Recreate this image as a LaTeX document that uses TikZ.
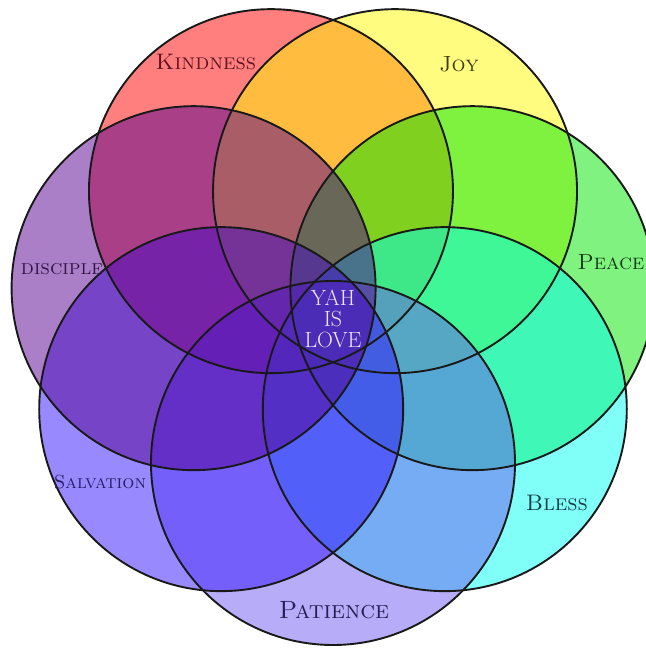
\documentclass[tikz,border=0pt]{standalone}
\usepackage{tikz}
\definecolor{kindC}{RGB}{255,0,0}
\definecolor{joyC}{RGB}{255,250,0}
\definecolor{peaceC}{RGB}{0,230,0}
\definecolor{blessC}{RGB}{0,255,240}
\definecolor{patC}{RGB}{110,90,240}
\definecolor{salvC}{RGB}{50,20,255}
\definecolor{discC}{RGB}{85,0,145}
\definecolor{kindT}{RGB}{95,20,30}
\definecolor{joyT}{RGB}{60,60,20}
\definecolor{peaceT}{RGB}{20,60,25}
\definecolor{blessT}{RGB}{20,60,70}
\definecolor{patT}{RGB}{40,30,85}
\definecolor{salvT}{RGB}{40,30,100}
\definecolor{discT}{RGB}{50,20,70}
\definecolor{coreT}{RGB}{238,228,255}

\begin{document}
\begin{tikzpicture}[x=1pt, y=1pt,
  petal/.style={circle, minimum size=364pt, inner sep=0pt, fill opacity=0.5},
  rim/.style={draw=black!90, line width=1.9pt},
  word/.style={font=\fontsize{22}{24}\selectfont\scshape, inner sep=0pt}]
\useasboundingbox (-333,-332) rectangle (312,320);
\node[petal, fill=kindC] (kind) at (115.71:143) {};
\node[petal, fill=joyC] (joy) at (64.29:143) {};
\node[petal, fill=peaceC] (peace) at (12.86:143) {};
\node[petal, fill=blessC] (bless) at (-38.57:143) {};
\node[petal, fill=patC] (pat) at (-90:143) {};
\node[petal, fill=salvC] (salv) at (-141.43:143) {};
\node[petal, fill=discC] (disc) at (167.14:143) {};
\foreach \c in {kind, joy, peace, bless, pat, salv, disc}
  \draw[rim] (\c.center) circle[radius=182];
\node[word, text=kindT, font=\fontsize{22.5}{24}\selectfont\scshape] (kindL) at (-127,258) {Kindness};
\node[word, text=joyT] (joyL) at (126,256) {Joy};
\node[word, text=peaceT] (peaceL) at (278,58) {Peace};
\node[word, text=discT, font=\fontsize{21}{24}\selectfont\scshape] (discL) at (-271,51) {disciple};
\node[word, text=salvT, font=\fontsize{19}{22}\selectfont\scshape] (salvL) at (-233,-162) {Salvation};
\node[word, text=blessT, font=\fontsize{22.5}{24}\selectfont\scshape] (blessL) at (224,-183) {Bless};
\node[word, text=patT, font=\fontsize{25}{28}\selectfont\scshape] (patL) at (1,-290) {Patience};
\node[word, text=coreT, align=center, font=\fontsize{22}{21}\selectfont] (core) at (0,1) {YAH\\IS\\LOVE};
\end{tikzpicture}
\end{document}
